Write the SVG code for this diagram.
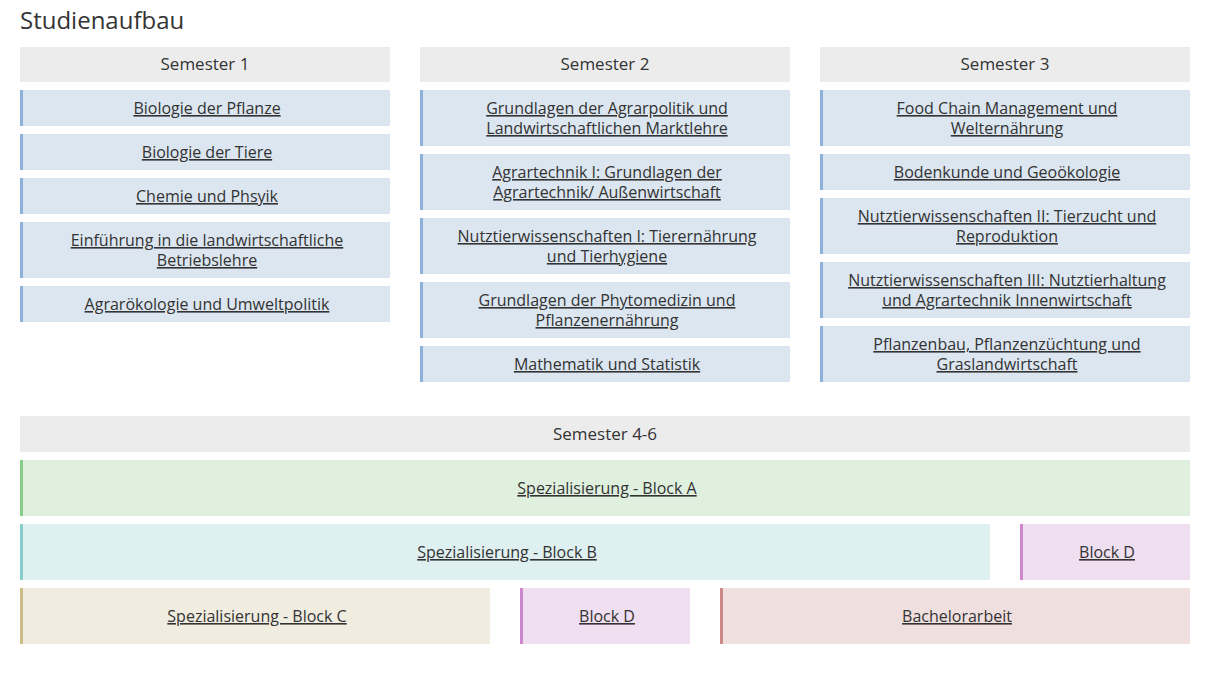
<svg xmlns="http://www.w3.org/2000/svg" width="1212" height="673" viewBox="0 0 1212 673">
<style>
text{font-family:"Open Sans","Liberation Sans",sans-serif;fill:#333;text-anchor:middle}
.t{font-size:16px;text-decoration:underline dotted}
.h{font-size:17px}
.hd{fill:#ececec}
.b{fill:#dce6f0}.bl{fill:#8fb0d8}
.ga{fill:#dff0df}.gl{fill:#88cc88}
.cy{fill:#dff0f0}.cl{fill:#88cccc}
.pk{fill:#f0dff0}.pl{fill:#cc88cc}
.be{fill:#f0ece0}.bel{fill:#ccbb88}
.rd{fill:#f0dfdf}.rl{fill:#cc8888}
</style>
<rect width="1212" height="673" fill="#fff"/>
<text x="20" y="29" style="font-size:24px;text-anchor:start">Studienaufbau</text>
<g id="s1h"><rect class="hd" x="20" y="47" width="370" height="35"/><text class="h" x="205" y="70">Semester 1</text></g>
<g id="s2h"><rect class="hd" x="420" y="47" width="370" height="35"/><text class="h" x="605" y="70">Semester 2</text></g>
<g id="s3h"><rect class="hd" x="820" y="47" width="370" height="35"/><text class="h" x="1005" y="70">Semester 3</text></g>
<g id="s1a"><rect class="b" x="20" y="90" width="370" height="36"/><rect class="bl" x="20" y="90" width="3" height="36"/><text class="t" x="207" y="114">Biologie der Pflanze</text></g>
<g id="s1b"><rect class="b" x="20" y="134" width="370" height="36"/><rect class="bl" x="20" y="134" width="3" height="36"/><text class="t" x="207" y="158">Biologie der Tiere</text></g>
<g id="s1c"><rect class="b" x="20" y="178" width="370" height="36"/><rect class="bl" x="20" y="178" width="3" height="36"/><text class="t" x="207" y="202">Chemie und Phsyik</text></g>
<g id="s1d"><rect class="b" x="20" y="222" width="370" height="56"/><rect class="bl" x="20" y="222" width="3" height="56"/><text class="t" x="207" y="246">Einführung in die landwirtschaftliche</text><text class="t" x="207" y="266">Betriebslehre</text></g>
<g id="s1e"><rect class="b" x="20" y="286" width="370" height="36"/><rect class="bl" x="20" y="286" width="3" height="36"/><text class="t" x="207" y="310">Agrarökologie und Umweltpolitik</text></g>
<g id="s2a"><rect class="b" x="420" y="90" width="370" height="56"/><rect class="bl" x="420" y="90" width="3" height="56"/><text class="t" x="607" y="114">Grundlagen der Agrarpolitik und</text><text class="t" x="607" y="134">Landwirtschaftlichen Marktlehre</text></g>
<g id="s2b"><rect class="b" x="420" y="154" width="370" height="56"/><rect class="bl" x="420" y="154" width="3" height="56"/><text class="t" x="607" y="178">Agrartechnik I: Grundlagen der</text><text class="t" x="607" y="198">Agrartechnik/ Außenwirtschaft</text></g>
<g id="s2c"><rect class="b" x="420" y="218" width="370" height="56"/><rect class="bl" x="420" y="218" width="3" height="56"/><text class="t" x="607" y="242">Nutztierwissenschaften I: Tierernährung</text><text class="t" x="607" y="262">und Tierhygiene</text></g>
<g id="s2d"><rect class="b" x="420" y="282" width="370" height="56"/><rect class="bl" x="420" y="282" width="3" height="56"/><text class="t" x="607" y="306">Grundlagen der Phytomedizin und</text><text class="t" x="607" y="326">Pflanzenernährung</text></g>
<g id="s2e"><rect class="b" x="420" y="346" width="370" height="36"/><rect class="bl" x="420" y="346" width="3" height="36"/><text class="t" x="607" y="370">Mathematik und Statistik</text></g>
<g id="s3a"><rect class="b" x="820" y="90" width="370" height="56"/><rect class="bl" x="820" y="90" width="3" height="56"/><text class="t" x="1007" y="114">Food Chain Management und</text><text class="t" x="1007" y="134">Welternährung</text></g>
<g id="s3b"><rect class="b" x="820" y="154" width="370" height="36"/><rect class="bl" x="820" y="154" width="3" height="36"/><text class="t" x="1007" y="178">Bodenkunde und Geoökologie</text></g>
<g id="s3c"><rect class="b" x="820" y="198" width="370" height="56"/><rect class="bl" x="820" y="198" width="3" height="56"/><text class="t" x="1007" y="222">Nutztierwissenschaften II: Tierzucht und</text><text class="t" x="1007" y="242">Reproduktion</text></g>
<g id="s3d"><rect class="b" x="820" y="262" width="370" height="56"/><rect class="bl" x="820" y="262" width="3" height="56"/><text class="t" x="1007" y="286">Nutztierwissenschaften III: Nutztierhaltung</text><text class="t" x="1007" y="306">und Agrartechnik Innenwirtschaft</text></g>
<g id="s3e"><rect class="b" x="820" y="326" width="370" height="56"/><rect class="bl" x="820" y="326" width="3" height="56"/><text class="t" x="1007" y="350">Pflanzenbau, Pflanzenzüchtung und</text><text class="t" x="1007" y="370">Graslandwirtschaft</text></g>
<g id="s46h"><rect class="hd" x="20" y="416" width="1170" height="36"/><text class="h" x="605" y="440">Semester 4-6</text></g>
<g id="blockA"><rect class="ga" x="20" y="460" width="1170" height="56"/><rect class="gl" x="20" y="460" width="3" height="56"/><text class="t" x="607" y="494">Spezialisierung - Block A</text></g>
<g id="blockB"><rect class="cy" x="20" y="524" width="970" height="56"/><rect class="cl" x="20" y="524" width="3" height="56"/><text class="t" x="507" y="558">Spezialisierung - Block B</text></g>
<g id="blockD1"><rect class="pk" x="1020" y="524" width="170" height="56"/><rect class="pl" x="1020" y="524" width="3" height="56"/><text class="t" x="1107" y="558">Block D</text></g>
<g id="blockC"><rect class="be" x="20" y="588" width="470" height="56"/><rect class="bel" x="20" y="588" width="3" height="56"/><text class="t" x="257" y="622">Spezialisierung - Block C</text></g>
<g id="blockD2"><rect class="pk" x="520" y="588" width="170" height="56"/><rect class="pl" x="520" y="588" width="3" height="56"/><text class="t" x="607" y="622">Block D</text></g>
<g id="bachelor"><rect class="rd" x="720" y="588" width="470" height="56"/><rect class="rl" x="720" y="588" width="3" height="56"/><text class="t" x="957" y="622">Bachelorarbeit</text></g>
<g id="connectors"/>
</svg>
